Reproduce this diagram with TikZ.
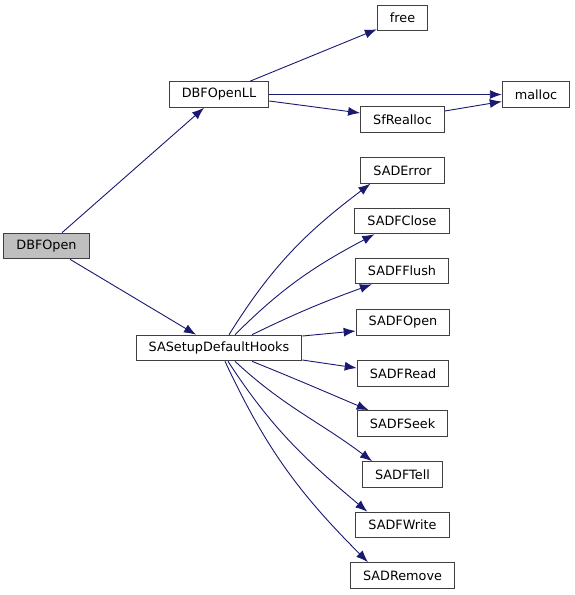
\documentclass[tikz,border=0pt]{standalone}
\usepackage{fontspec}
\setmainfont{DejaVu Sans}
\usetikzlibrary{arrows.meta}
\definecolor{edgeblue}{RGB}{25,25,112}
\definecolor{boxgray}{RGB}{191,191,191}
\tikzset{
  fn/.style={draw=black!75, line width=1.1pt, fill=white, inner xsep=12.5pt, inner ysep=0pt,
    minimum height=25.5pt, font=\fontsize{12.8}{15}\selectfont},
  call/.style={draw=edgeblue, line width=0.9pt, -{Latex[length=12pt,width=9pt]}}
}
\begin{document}
\begin{tikzpicture}[x=1pt, y=-1pt]
            \useasboundingbox (0, 0) rectangle (575, 595);

            \node[fn, fill=boxgray] (dbfopen) at (46.5, 246) {DBFOpen};
            \node[fn] (openll) at (219, 94.5) {DBFOpenLL};
            \node[fn] (hooks) at (219, 348) {SASetupDefaultHooks};

            \node[fn] (free) at (402.5, 18) {free};
            \node[fn] (malloc) at (536, 94.5) {malloc};
            \node[fn] (sfrealloc) at (402.5, 119.5) {SfRealloc};

            \node[fn] (saderror) at (402.5, 170.5) {SADError};
            \node[fn] (sadfclose) at (402, 221) {SADFClose};
            \node[fn] (sadfflush) at (402, 271) {SADFFlush};
            \node[fn] (sadfopen) at (403, 322.5) {SADFOpen};
            \node[fn] (sadfread) at (403, 373.5) {SADFRead};
            \node[fn] (sadfseek) at (402.5, 423.5) {SADFSeek};
            \node[fn] (sadftell) at (402.5, 474.5) {SADFTell};
            \node[fn] (sadfwrite) at (402.5, 525) {SADFWrite};
            \node[fn] (sadremove) at (402.5, 575.5) {SADRemove};

            % calls from DBFOpen
            \draw[call] ([xshift=15.5pt]dbfopen.north) -- ([xshift=-15pt]openll.south);
            \draw[call] ([xshift=23.5pt]dbfopen.south) -- ([xshift=-23pt]hooks.north);

            % calls from DBFOpenLL
            \draw[call] ([xshift=31pt]openll.north) -- ([yshift=2pt]free.south west);
            \draw[call] (openll.east) -- (malloc.west);
            \draw[call] ([yshift=-6.5pt]openll.east) -- ([yshift=6.5pt]sfrealloc.west);
            \draw[call] ([yshift=8.5pt]sfrealloc.east) -- ([yshift=-7pt]malloc.west);

            % calls from SASetupDefaultHooks
            \draw[call] ([xshift=10pt]hooks.north) to[out=58, in=217] ([xshift=10pt]saderror.south west);
            \draw[call] ([xshift=16pt]hooks.north) to[out=45, in=208] ([xshift=20pt]sadfclose.south west);
            \draw[call] ([xshift=33pt]hooks.north) to[out=26, in=200] ([xshift=17pt]sadfflush.south west);
            \draw[call] ([yshift=12pt]hooks.east) -- ([yshift=-8.5pt]sadfopen.west);
            \draw[call] ([yshift=-12pt]hooks.east) -- ([yshift=5.5pt]sadfread.west);
            \draw[call] ([xshift=33pt]hooks.south) to[out=-22, in=157] ([xshift=12pt]sadfseek.north west);
            \draw[call] ([xshift=16pt]hooks.south) to[out=-43, in=143] ([xshift=10pt]sadftell.north west);
            \draw[call] ([xshift=9pt]hooks.south) to[out=-57, in=140] ([xshift=12pt]sadfwrite.north west);
            \draw[call] ([xshift=6pt]hooks.south) to[out=-65, in=135] ([xshift=18pt]sadremove.north west);
        \end{tikzpicture}
\end{document}
